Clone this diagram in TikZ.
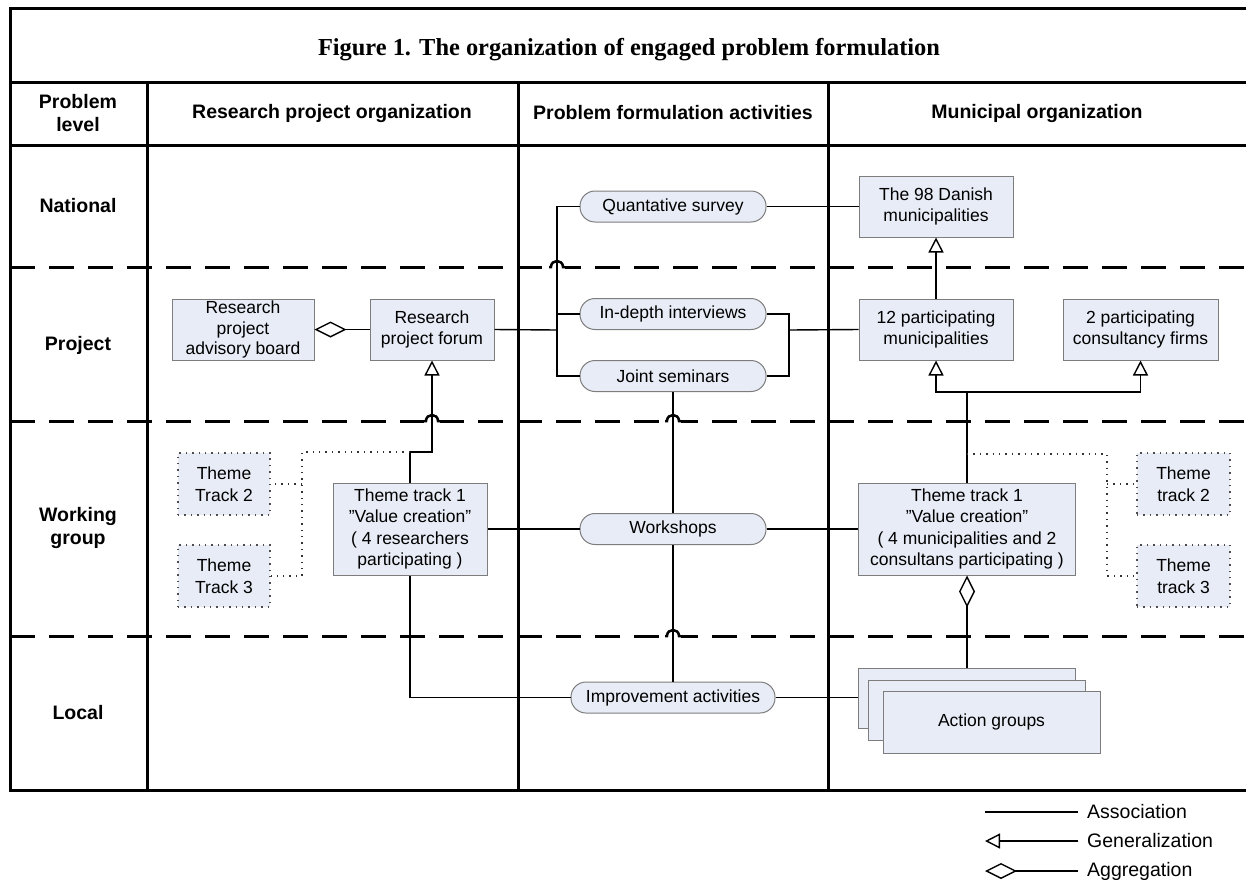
\documentclass[tikz,border=0pt]{standalone}
\usepackage{fontspec}
\setmainfont{Liberation Serif}
\setsansfont{Liberation Sans}
\usetikzlibrary{positioning,arrows.meta}
\definecolor{paleblue}{RGB}{232,236,246}
\definecolor{edgegray}{RGB}{125,125,125}
\tikzstyle{umlbox}=[rectangle, draw=edgegray, fill=paleblue, line width=1pt, align=center, inner sep=0pt, font=\sffamily\fontsize{17.5}{21.5}\selectfont]
\tikzstyle{themebox}=[umlbox, draw=black!70, line width=1.4pt, dash pattern=on 1.4pt off 5pt, minimum width=92pt, minimum height=62pt]
\tikzstyle{activity}=[umlbox, rounded corners=15pt, minimum width=186pt, minimum height=31pt]
\tikzstyle{headtext}=[align=center, font=\sffamily\bfseries\fontsize{19.5}{23}\selectfont]
\tikzstyle{legendtext}=[anchor=west, inner sep=0pt, font=\sffamily\fontsize{19.5}{22}\selectfont]
\tikzstyle{assoc}=[line width=1.4pt]
\tikzstyle{gen}=[assoc, -{Triangle[open, length=15pt, width=15pt]}]
\tikzstyle{agg}=[assoc, {Diamond[open, length=32pt, width=16pt]}-]
\tikzstyle{themelink}=[line width=1.4pt, draw=black!80, dash pattern=on 1.4pt off 5pt]
\tikzstyle{frameline}=[line width=3pt]
\tikzstyle{levelline}=[line width=3pt, dash pattern=on 25pt off 14pt]
% hop of a level line over a connector
\newcommand{\levelhop}[2]{%
  \fill[white] (#1-8,#2-3) rectangle (#1+8,#2+3);
  \draw[line width=2.5pt] (#1-8,#2) -- (#1-6,#2) .. controls (#1-6,#2-8) and (#1+6,#2-8) .. (#1+6,#2) -- (#1+8,#2);}

\begin{document}
\begin{tikzpicture}[x=1pt, y=-1pt]
\useasboundingbox (0,0) rectangle (1246,884);

% frame and columns
\draw[frameline] (1252,8) -- (10,8) -- (10,790) -- (1252,790);
\draw[frameline] (10,82) -- (1252,82);
\draw[frameline] (10,145) -- (1252,145);
\draw[frameline] (147,82) -- (147,790);
\draw[frameline] (518,82) -- (518,790);
\draw[frameline] (828,82) -- (828,790);
\draw[levelline] (10,267) -- (1252,267);
\draw[levelline] (10,421) -- (1252,421);
\draw[levelline] (10,636) -- (1252,636);
\levelhop{557}{267}
\levelhop{432}{421}
\levelhop{673}{421}
\levelhop{673}{636}

\node[font=\rmfamily\bfseries\fontsize{24.4}{29}\selectfont] (title) at (629,50) {Figure 1. The organization of engaged problem formulation};

% headings
\node[headtext] (levelHead) at (78,113) {Problem\\level};
\node[headtext] (researchHead) at (332,113) {Research project organization};
\node[headtext] (activityHead) at (673,113) {Problem formulation activities};
\node[headtext] (municipalHead) at (1037,113) {Municipal organization};
\node[headtext] (national) at (78,206) {National};
\node[headtext] (project) at (78,345) {Project};
\node[headtext] (working) at (78,528) {Working\\group};
\node[headtext] (local) at (78,713) {Local};

% research project organization
\node[umlbox, minimum width=142pt, minimum height=61pt, font=\sffamily\fontsize{17.5}{20.5}\selectfont] (advisory) at (243,329.5) {Research\\project\\advisory board};
\node[umlbox, minimum width=124pt, minimum height=61pt] (forum) at (432,329.5) {Research\\project forum};
\node[umlbox, minimum width=154pt, minimum height=92pt] (ttLeft) at (410,529) {Theme track 1\\''Value creation''\\( 4 researchers\\participating )};
\node[themebox] (themeL2) at (224,484) {Theme\\Track 2};
\node[themebox] (themeL3) at (224,576) {Theme\\Track 3};

% problem formulation activities
\node[activity] (quant) at (673,206.5) {Quantative survey};
\node[activity] (indepth) at (673,314) {In-depth interviews};
\node[activity] (joint) at (673,376) {Joint seminars};
\node[activity] (workshops) at (673,529) {Workshops};
\node[activity, minimum width=204pt] (improve) at (673,697.5) {Improvement activities};

% municipal organization
\node[umlbox, minimum width=154pt, minimum height=61pt] (danish) at (936,206.5) {The 98 Danish\\municipalities};
\node[umlbox, minimum width=154pt, minimum height=61pt] (twelve) at (936,329.5) {12 participating\\municipalities};
\node[umlbox, minimum width=155pt, minimum height=61pt] (consult) at (1140.5,329.5) {2 participating\\consultancy firms};
\node[umlbox, minimum width=217pt, minimum height=92pt] (ttRight) at (967,529) {Theme track 1\\''Value creation''\\( 4 municipalities and 2\\consultans participating )};
\node[themebox, minimum width=93pt] (themeR2) at (1183.5,484) {Theme\\track 2};
\node[themebox, minimum width=93pt] (themeR3) at (1183.5,576) {Theme\\track 3};
\node[umlbox, minimum width=217pt, minimum height=60pt] (actionA) at (967,698) {};
\node[umlbox, minimum width=217pt, minimum height=60pt] (actionB) at (976.5,710) {};
\node[umlbox, minimum width=217pt, minimum height=62pt] (actionC) at (991.5,722) {Action groups};

% connectors
\coordinate (busL) at (557,330);
\coordinate (busR) at (789,330);
\coordinate (jointL) at (432,452);
\coordinate (jointR) at (967,392);
\coordinate (dotL) at (302,452);
\coordinate (dotR) at (1107,454);

\draw[agg] (advisory.east) -- (forum.west);
\draw[assoc] (forum.east) -- (busL);
\draw[assoc] (quant.west) -| (busL |- joint.west) -- (joint.west);
\draw[assoc] (indepth.west) -- (indepth.west -| busL);
\draw[assoc] (quant.east) -- (danish.west);
\draw[assoc] (indepth.east) -| (busR |- joint.east) -- (joint.east);
\draw[assoc] (busR) -- (twelve.west);
\draw[assoc] (joint.south) -- (workshops.north);
\draw[assoc] (workshops.south) -- (improve.north);
\draw[assoc] (ttLeft.east) -- (workshops.west);
\draw[assoc] (workshops.east) -- (ttRight.west);
\draw[assoc] (ttLeft.south) |- (improve.west);
\draw[assoc] (improve.east) -- (improve.east -| actionA.west);
\draw[gen] (ttLeft.north) |- (jointL) -- (forum.south);
\draw[gen] (twelve.north) -- (danish.south);
\draw[gen] (ttRight.north) -- (jointR) -| (twelve.south);
\draw[gen] (jointR) -| (consult.south);
\draw[agg] (ttRight.south) -- (actionA.north);
\draw[themelink] (ttLeft.north |- dotL) -- (dotL) |- (themeL3.east);
\draw[themelink] (dotL |- themeL2.east) -- (themeL2.east);
\draw[themelink] (ttRight.north |- dotR) -- (dotR) |- (themeR3.west);
\draw[themelink] (dotR |- themeR2.west) -- (themeR2.west);

% legend
\node[legendtext] (assocLbl) at (1087,812) {Association};
\node[legendtext] (genLbl) at (1087,841) {Generalization};
\node[legendtext] (aggLbl) at (1087,871) {Aggregation};
\draw[assoc] (985,812) -- ([xshift=-9pt]assocLbl.west);
\draw[gen] ([xshift=-9pt]genLbl.west) -- (985,841);
\draw[agg] (985,871) -- ([xshift=-9pt]aggLbl.west);

\end{tikzpicture}
\end{document}
